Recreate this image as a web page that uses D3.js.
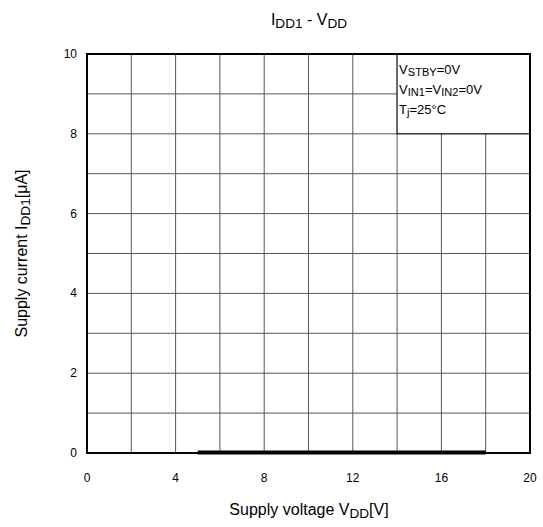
<!DOCTYPE html>
<html>
<head>
<meta charset="utf-8">
<script src="https://cdn.jsdelivr.net/npm/d3@7"></script>
<style>
  body { margin: 0; background: #fff; }
  svg { font-family: "Liberation Sans", Arial, sans-serif; }
</style>
</head>
<body>
<svg width="543" height="527"></svg>
<script>
// data
const vdd = [5, 6, 8, 10, 12, 14, 16, 18];
const idd1 = [0.01, 0.01, 0.01, 0.01, 0.01, 0.01, 0.01, 0.01];
const xTicks = [0, 4, 8, 12, 16, 20];
const yTicks = [0, 2, 4, 6, 8, 10];
const xGrid = [2, 4, 6, 8, 10, 12, 14, 16, 18];
const yGrid = [1, 2, 3, 4, 5, 6, 7, 8, 9];

const svg = d3.select("svg");
const plotL = 87, plotR = 530, plotT = 54, plotB = 453;

const x = d3.scaleLinear().domain([0, 20]).range([plotL, plotR]);
const y = d3.scaleLinear().domain([0, 10]).range([plotB, plotT]);

// grid
svg.append("g").selectAll("line").data(xGrid).enter().append("line")
  .attr("x1", d => x(d)).attr("x2", d => x(d))
  .attr("y1", plotT).attr("y2", plotB)
  .attr("stroke", "#555").attr("stroke-width", 1);
svg.append("g").selectAll("line").data(yGrid).enter().append("line")
  .attr("x1", plotL).attr("x2", plotR)
  .attr("y1", d => y(d)).attr("y2", d => y(d))
  .attr("stroke", "#555").attr("stroke-width", 1);

// legend box covers the grid in the top right
svg.append("rect")
  .attr("x", x(14)).attr("y", y(10))
  .attr("width", x(20) - x(14)).attr("height", y(8) - y(10))
  .attr("fill", "#fff").attr("stroke", "#000").attr("stroke-width", 1);

// data line
const line = d3.line().x((d, i) => x(vdd[i])).y(d => y(d));
svg.append("path").datum(idd1)
  .attr("d", line)
  .attr("fill", "none").attr("stroke", "#000").attr("stroke-width", 4);

// frame
svg.append("rect")
  .attr("x", plotL).attr("y", plotT)
  .attr("width", plotR - plotL).attr("height", plotB - plotT)
  .attr("fill", "none").attr("stroke", "#000").attr("stroke-width", 2);

// tick labels
svg.append("g").selectAll("text").data(xTicks).enter().append("text")
  .attr("x", d => x(d)).attr("y", plotB + 29)
  .attr("text-anchor", "middle").attr("font-size", 12)
  .text(d => d);
svg.append("g").selectAll("text").data(yTicks).enter().append("text")
  .attr("x", plotL - 10).attr("y", d => y(d) + 4)
  .attr("text-anchor", "end").attr("font-size", 12)
  .text(d => d);

// text with subscripts
function subText(sel, parts, size) {
  parts.forEach(p => {
    const t = sel.append("tspan").text(p[0]);
    if (p[1]) t.attr("font-size", size * 0.85).attr("baseline-shift", "-20%");
    else t.attr("font-size", size);
  });
  return sel;
}

subText(svg.append("text").attr("x", 309).attr("y", 25).attr("text-anchor", "middle"),
  [["I"], ["DD1", 1], [" - V"], ["DD", 1]], 16);

subText(svg.append("text").attr("x", 309).attr("y", 515).attr("text-anchor", "middle"),
  [["Supply voltage V"], ["DD", 1], ["[V]"]], 16);

subText(svg.append("text").attr("transform", "translate(27," + ((plotT + plotB) / 2) + ") rotate(-90)")
  .attr("text-anchor", "middle"),
  [["Supply current I"], ["DD1", 1], ["[μA]"]], 16);

// conditions
const cx = x(14) + 2;
subText(svg.append("text").attr("x", cx).attr("y", 74), [["V"], ["STBY", 1], ["=0V"]], 13);
subText(svg.append("text").attr("x", cx).attr("y", 94), [["V"], ["IN1", 1], ["=V"], ["IN2", 1], ["=0V"]], 13);
subText(svg.append("text").attr("x", cx).attr("y", 114), [["T"], ["j", 1], ["=25°C"]], 13);
</script>
</body>
</html>
